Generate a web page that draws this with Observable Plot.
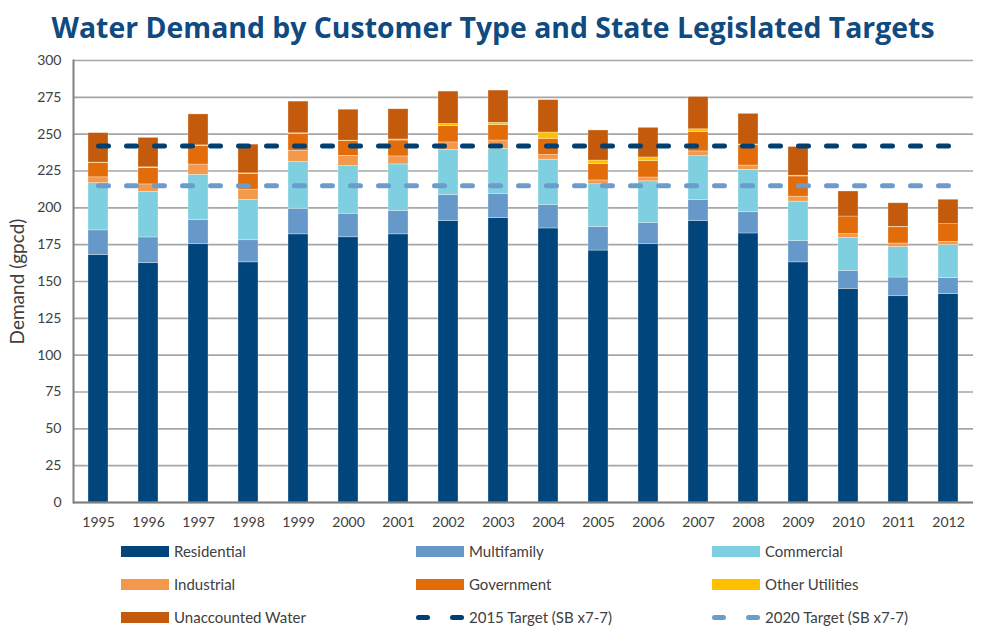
<!DOCTYPE html>
<html>
<head>
<meta charset="utf-8">
<script src="https://cdn.jsdelivr.net/npm/d3@7"></script>
<script src="https://cdn.jsdelivr.net/npm/@observablehq/plot@0.6"></script>
<style>
  html, body { margin: 0; padding: 0; background: #fff; }
  body { width: 986px; height: 627px; overflow: hidden; font-family: Lato, "Open Sans", sans-serif; }
  #title { height: 45px; line-height: 54px; text-align: center; font-family: "Open Sans", sans-serif; font-weight: 700; font-size: 28.4px; color: #0f4a80; white-space: nowrap; }
  #chart svg { display: block; }
  #legend { position: relative; height: 92px; }
  .item { position: absolute; display: flex; align-items: center; font-size: 15px; color: #404040; font-family: Lato, sans-serif; }
  .sw { width: 48px; height: 11px; margin-right: 5px; }
  .dash { width: 48px; height: 11px; margin-right: 5px; display: flex; align-items: center; justify-content: space-between; }
  .dash span { display: block; width: 14px; height: 5px; border-radius: 3px; }
</style>
</head>
<body>
<div id="title">Water Demand by Customer Type and State Legislated Targets</div>
<div id="chart"></div>
<div id="legend"></div>
<script>
const years = ["1995","1996","1997","1998","1999","2000","2001","2002","2003","2004","2005","2006","2007","2008","2009","2010","2011","2012"];
const types = ["Residential","Multifamily","Commercial","Industrial","Government","Other Utilities","Unaccounted Water"];
const colors = ["#00467c","#6699c9","#7ecfe0","#f4994c","#e36c0a","#ffc000","#c45a0b"];
const residential = [168, 162.4, 175.3, 163, 182, 180, 182, 191, 193, 186, 171, 175.3, 191, 182.6, 163, 145, 140, 141.4];
const multifamily = [16.7, 17.5, 16.3, 15, 17.4, 16, 15.8, 17.7, 16.5, 16, 16, 14.3, 14.3, 14.4, 14.5, 12.2, 12.7, 11];
const commercial  = [32, 31, 30.8, 27.4, 31.7, 32.3, 31.7, 30.5, 30.5, 30.7, 29, 28.4, 29.8, 28.8, 26.7, 22.4, 20.8, 22.4];
const industrial  = [4, 5, 7, 7, 7.7, 7, 5.4, 5.2, 5.7, 3.2, 2.6, 2.6, 3.2, 2.9, 3.4, 2.5, 2.3, 2.1];
const government  = [9.7, 11, 12.5, 10.5, 11.3, 10, 10.8, 11.1, 10.4, 10.9, 11, 11.1, 13.2, 13.8, 13.7, 12, 11, 12];
const otherUtil   = [0.3, 0.6, 0.5, 0.5, 0.5, 0.3, 0.7, 1.4, 1.6, 4.3, 2.5, 2.5, 1.8, 0.5, 0.5, 0, 0.3, 0];
const unaccounted = [20, 20, 21, 19.5, 21.5, 21, 20.5, 22, 21.9, 22, 20.4, 20.1, 21.9, 20.8, 19.5, 17, 16, 16.6];
const target2015 = 242;
const target2020 = 215;
const yTicks = [0,25,50,75,100,125,150,175,200,225,250,275,300];

const series = [residential, multifamily, commercial, industrial, government, otherUtil, unaccounted];
const rows = [];
types.forEach((t, ti) => years.forEach((y, yi) => rows.push({year: y, type: t, value: series[ti][yi]})));
const t2015 = years.map(y => ({year: y, value: target2015}));
const t2020 = years.map(y => ({year: y, value: target2020}));

const plot = Plot.plot({
  width: 986,
  height: 490,
  marginTop: 15,
  marginBottom: 33,
  marginLeft: 73,
  marginRight: 13,
  style: {fontFamily: "Lato, sans-serif", color: "#404040", background: "#fff"},
  x: {domain: years, paddingInner: 0.6, paddingOuter: 0.3, label: null},
  y: {domain: [0, 300], label: null},
  color: {domain: types, range: colors},
  marks: [
    Plot.gridY(yTicks, {stroke: "#a6a6a6", strokeOpacity: 1, strokeWidth: 1.6}),
    Plot.barY(rows, {x: "year", y: "value", fill: "type", order: types, stroke: "#ffffff", strokeWidth: 0.6, strokeOpacity: 0.5}),
    Plot.line(t2015, {x: "year", y: "value", stroke: "#003f72", strokeWidth: 5, strokeDasharray: "10,18", strokeLinecap: "round"}),
    Plot.line(t2020, {x: "year", y: "value", stroke: "#6a9ccc", strokeWidth: 5, strokeDasharray: "10,18", strokeLinecap: "round"}),
    Plot.ruleY([0], {stroke: "#808080", strokeWidth: 2}),
    Plot.frame({anchor: "left", stroke: "#808080", strokeWidth: 2}),
    Plot.axisY(yTicks, {tickSize: 0, tickPadding: 12, fontSize: 14, label: null}),
    Plot.axisY({ticks: [], label: "Demand (gpcd)", labelAnchor: "center", labelArrow: "none", labelOffset: 63, fontSize: 19}),
    Plot.axisX({tickSize: 0, tickPadding: 15, fontSize: 14, label: null})
  ]
});
document.getElementById("chart").appendChild(plot);

const legend = document.getElementById("legend");
const items = [
  {label: "Residential", kind: "sw", color: colors[0], col: 0, row: 0},
  {label: "Multifamily", kind: "sw", color: colors[1], col: 1, row: 0},
  {label: "Commercial", kind: "sw", color: colors[2], col: 2, row: 0},
  {label: "Industrial", kind: "sw", color: colors[3], col: 0, row: 1},
  {label: "Government", kind: "sw", color: colors[4], col: 1, row: 1},
  {label: "Other Utilities", kind: "sw", color: colors[5], col: 2, row: 1},
  {label: "Unaccounted Water", kind: "sw", color: colors[6], col: 0, row: 2},
  {label: "2015 Target (SB x7-7)", kind: "dash", color: "#003f72", col: 1, row: 2},
  {label: "2020 Target (SB x7-7)", kind: "dash", color: "#6a9ccc", col: 2, row: 2}
];
const colX = [121, 416, 712];
items.forEach(it => {
  const d = document.createElement("div");
  d.className = "item";
  d.style.left = colX[it.col] + "px";
  d.style.top = (7 + it.row * 33) + "px";
  if (it.kind === "sw") {
    d.innerHTML = `<div class="sw" style="background:${it.color}"></div><span>${it.label}</span>`;
  } else {
    d.innerHTML = `<div class="dash"><span style="background:${it.color}"></span><span style="background:${it.color}"></span></div><span>${it.label}</span>`;
  }
  legend.appendChild(d);
});
</script>
</body>
</html>
